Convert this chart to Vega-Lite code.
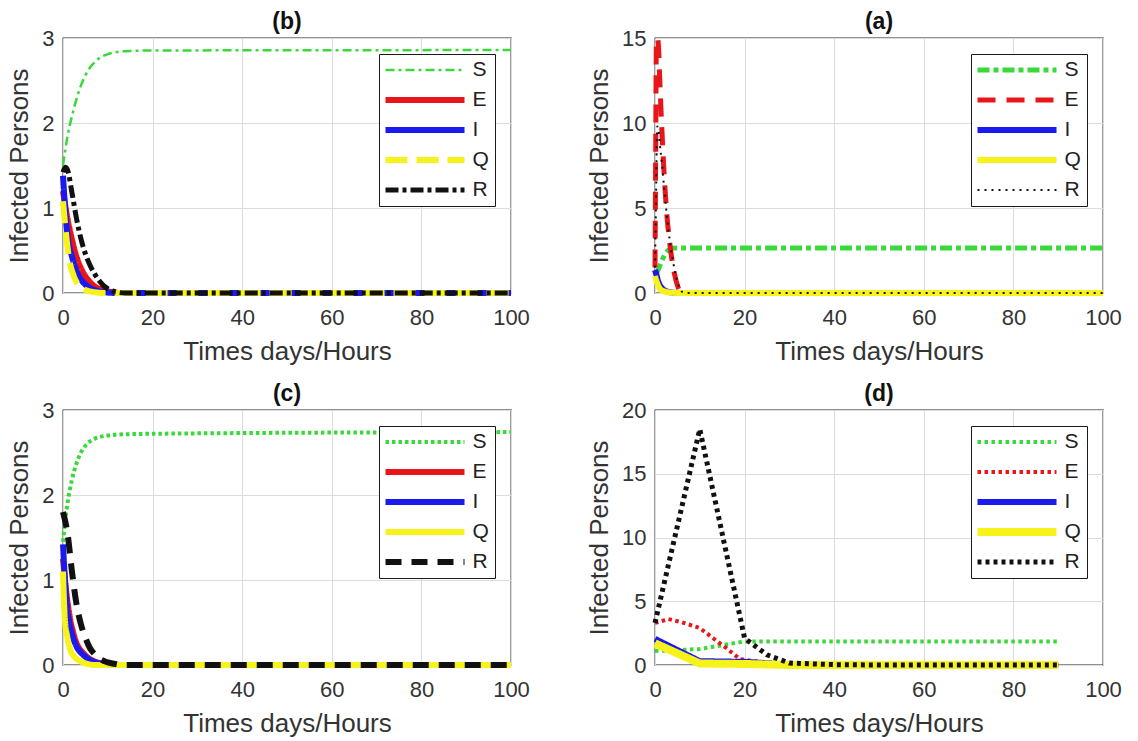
{
  "$schema": "https://vega.github.io/schema/vega-lite/v6.json",
  "padding": {"left": 6, "top": 10, "right": 5, "bottom": 5},
  "background": "white",
  "bounds": "flush",
  "columns": 2,
  "spacing": {"row": 117, "column": 144},
  "datasets": {
    "b": [
      {"s":"S","t":0,"v":1.5},{"s":"S","t":0.5,"v":1.68},{"s":"S","t":1,"v":1.84},{"s":"S","t":1.5,"v":1.97},{"s":"S","t":2,"v":2.08},{"s":"S","t":3,"v":2.28},{"s":"S","t":4,"v":2.44},{"s":"S","t":5,"v":2.56},{"s":"S","t":6,"v":2.65},{"s":"S","t":7,"v":2.71},{"s":"S","t":8,"v":2.76},{"s":"S","t":10,"v":2.81},{"s":"S","t":12,"v":2.835},{"s":"S","t":15,"v":2.848},{"s":"S","t":20,"v":2.853},{"s":"S","t":100,"v":2.858},
      {"s":"E","t":0,"v":1.2},{"s":"E","t":0.75,"v":0.95},{"s":"E","t":2,"v":0.63},{"s":"E","t":3,"v":0.43},{"s":"E","t":4.5,"v":0.24},{"s":"E","t":6,"v":0.13},{"s":"E","t":7,"v":0.08},{"s":"E","t":9,"v":0.035},{"s":"E","t":11,"v":0.01},{"s":"E","t":13,"v":0},{"s":"E","t":100,"v":0},
      {"s":"I","t":0,"v":1.38},{"s":"I","t":0.4,"v":1.05},{"s":"I","t":1,"v":0.68},{"s":"I","t":2,"v":0.43},{"s":"I","t":3,"v":0.26},{"s":"I","t":4,"v":0.16},{"s":"I","t":5,"v":0.1},{"s":"I","t":6,"v":0.06},{"s":"I","t":8,"v":0.02},{"s":"I","t":10,"v":0.005},{"s":"I","t":12,"v":0},{"s":"I","t":100,"v":0},
      {"s":"Q","t":0,"v":1.08},{"s":"Q","t":0.75,"v":0.66},{"s":"Q","t":1.5,"v":0.36},{"s":"Q","t":2,"v":0.26},{"s":"Q","t":3,"v":0.13},{"s":"Q","t":4,"v":0.07},{"s":"Q","t":5,"v":0.035},{"s":"Q","t":7,"v":0.01},{"s":"Q","t":9,"v":0},{"s":"Q","t":100,"v":0},
      {"s":"R","t":0,"v":1.42},{"s":"R","t":0.5,"v":1.48},{"s":"R","t":1,"v":1.45},{"s":"R","t":2,"v":1.18},{"s":"R","t":3,"v":0.88},{"s":"R","t":4,"v":0.64},{"s":"R","t":5,"v":0.46},{"s":"R","t":6,"v":0.33},{"s":"R","t":7,"v":0.23},{"s":"R","t":8,"v":0.15},{"s":"R","t":9,"v":0.09},{"s":"R","t":10,"v":0.05},{"s":"R","t":11,"v":0.025},{"s":"R","t":12,"v":0.01},{"s":"R","t":14,"v":0},{"s":"R","t":100,"v":0}
    ],
    "a": [
      {"s":"S","t":0,"v":1.1},{"s":"S","t":0.5,"v":1.25},{"s":"S","t":1,"v":1.55},{"s":"S","t":1.5,"v":1.88},{"s":"S","t":2,"v":2.15},{"s":"S","t":2.5,"v":2.38},{"s":"S","t":3,"v":2.52},{"s":"S","t":3.5,"v":2.6},{"s":"S","t":4,"v":2.64},{"s":"S","t":5,"v":2.65},{"s":"S","t":100,"v":2.65},
      {"s":"E","t":0,"v":1.5},{"s":"E","t":0.15,"v":8},{"s":"E","t":0.3,"v":14.6},{"s":"E","t":0.55,"v":15},{"s":"E","t":0.8,"v":14.4},{"s":"E","t":1,"v":13},{"s":"E","t":1.5,"v":9.8},{"s":"E","t":2,"v":7.2},{"s":"E","t":2.5,"v":5.1},{"s":"E","t":3,"v":3.6},{"s":"E","t":3.5,"v":2.5},{"s":"E","t":4,"v":1.6},{"s":"E","t":4.5,"v":0.95},{"s":"E","t":5,"v":0.45},{"s":"E","t":5.5,"v":0.12},{"s":"E","t":6,"v":0.02},{"s":"E","t":7,"v":0},{"s":"E","t":100,"v":0},
      {"s":"I","t":0,"v":1.35},{"s":"I","t":0.3,"v":1.1},{"s":"I","t":0.7,"v":0.7},{"s":"I","t":1,"v":0.5},{"s":"I","t":1.5,"v":0.3},{"s":"I","t":2,"v":0.18},{"s":"I","t":3,"v":0.07},{"s":"I","t":4,"v":0.02},{"s":"I","t":5,"v":0},{"s":"I","t":100,"v":0},
      {"s":"Q","t":0,"v":1.0},{"s":"Q","t":0.4,"v":0.65},{"s":"Q","t":0.8,"v":0.38},{"s":"Q","t":1.2,"v":0.22},{"s":"Q","t":2,"v":0.1},{"s":"Q","t":3,"v":0.04},{"s":"Q","t":4,"v":0.01},{"s":"Q","t":5,"v":0},{"s":"Q","t":100,"v":0},
      {"s":"R","t":0,"v":1.5},{"s":"R","t":0.2,"v":5},{"s":"R","t":0.5,"v":9.8},{"s":"R","t":0.8,"v":9.6},{"s":"R","t":1,"v":9.0},{"s":"R","t":1.5,"v":7.7},{"s":"R","t":2,"v":6.3},{"s":"R","t":2.5,"v":4.9},{"s":"R","t":3,"v":3.7},{"s":"R","t":3.5,"v":2.7},{"s":"R","t":4,"v":1.9},{"s":"R","t":4.5,"v":1.2},{"s":"R","t":5,"v":0.65},{"s":"R","t":5.5,"v":0.3},{"s":"R","t":6,"v":0.08},{"s":"R","t":7,"v":0},{"s":"R","t":100,"v":0}
    ],
    "c": [
      {"s":"S","t":0,"v":1.45},{"s":"S","t":0.5,"v":1.7},{"s":"S","t":1,"v":1.9},{"s":"S","t":2,"v":2.18},{"s":"S","t":3,"v":2.37},{"s":"S","t":4,"v":2.5},{"s":"S","t":5,"v":2.58},{"s":"S","t":6,"v":2.63},{"s":"S","t":7,"v":2.66},{"s":"S","t":8,"v":2.68},{"s":"S","t":10,"v":2.7},{"s":"S","t":14,"v":2.715},{"s":"S","t":30,"v":2.725},{"s":"S","t":100,"v":2.74},
      {"s":"E","t":0,"v":1.25},{"s":"E","t":0.75,"v":0.85},{"s":"E","t":1.5,"v":0.57},{"s":"E","t":2.2,"v":0.4},{"s":"E","t":3,"v":0.26},{"s":"E","t":4.5,"v":0.14},{"s":"E","t":6,"v":0.07},{"s":"E","t":8,"v":0.025},{"s":"E","t":10,"v":0.008},{"s":"E","t":12,"v":0},{"s":"E","t":100,"v":0},
      {"s":"I","t":0,"v":1.42},{"s":"I","t":0.3,"v":1.12},{"s":"I","t":0.75,"v":0.75},{"s":"I","t":1.5,"v":0.48},{"s":"I","t":2.2,"v":0.33},{"s":"I","t":3,"v":0.22},{"s":"I","t":4.5,"v":0.12},{"s":"I","t":6,"v":0.06},{"s":"I","t":8,"v":0.02},{"s":"I","t":10,"v":0.005},{"s":"I","t":12,"v":0},{"s":"I","t":100,"v":0},
      {"s":"Q","t":0,"v":1.1},{"s":"Q","t":0.4,"v":0.55},{"s":"Q","t":1,"v":0.32},{"s":"Q","t":1.5,"v":0.2},{"s":"Q","t":2.5,"v":0.1},{"s":"Q","t":3.7,"v":0.05},{"s":"Q","t":5,"v":0.02},{"s":"Q","t":7,"v":0},{"s":"Q","t":100,"v":0},
      {"s":"R","t":0,"v":1.8},{"s":"R","t":1,"v":1.55},{"s":"R","t":2,"v":1.1},{"s":"R","t":3,"v":0.72},{"s":"R","t":4,"v":0.48},{"s":"R","t":5,"v":0.32},{"s":"R","t":6,"v":0.2},{"s":"R","t":7,"v":0.13},{"s":"R","t":8,"v":0.08},{"s":"R","t":10,"v":0.03},{"s":"R","t":12,"v":0.01},{"s":"R","t":13,"v":0},{"s":"R","t":100,"v":0}
    ],
    "d": [
      {"s":"S","t":0,"v":1.1},{"s":"S","t":10,"v":1.25},{"s":"S","t":20,"v":1.85},{"s":"S","t":90,"v":1.85},
      {"s":"E","t":0,"v":3.3},{"s":"E","t":3,"v":3.6},{"s":"E","t":6,"v":3.35},{"s":"E","t":10,"v":2.9},{"s":"E","t":13,"v":2.1},{"s":"E","t":16,"v":1.3},{"s":"E","t":19,"v":0.45},{"s":"E","t":22,"v":0.3},{"s":"E","t":26,"v":0.2},{"s":"E","t":30,"v":0.05},{"s":"E","t":35,"v":0},{"s":"E","t":90,"v":0},
      {"s":"I","t":0,"v":2.05},{"s":"I","t":10,"v":0.3},{"s":"I","t":20,"v":0.25},{"s":"I","t":30,"v":0.02},{"s":"I","t":40,"v":0},{"s":"I","t":90,"v":0},
      {"s":"Q","t":0,"v":1.7},{"s":"Q","t":10,"v":0.12},{"s":"Q","t":20,"v":0.08},{"s":"Q","t":30,"v":0},{"s":"Q","t":90,"v":0},
      {"s":"R","t":0,"v":3.3},{"s":"R","t":10,"v":18.5},{"s":"R","t":20,"v":2.1},{"s":"R","t":25,"v":0.8},{"s":"R","t":30,"v":0.15},{"s":"R","t":40,"v":0.03},{"s":"R","t":50,"v":0},{"s":"R","t":90,"v":0}
    ]
  },
  "concat": [
    {
      "title": "(b)",
      "width": 448, "height": 255,
      "data": {"name": "b"},
      "mark": {"type": "line", "interpolate": "monotone"},
      "encoding": {
        "x": {"field": "t", "type": "quantitative", "scale": {"domain": [0, 100], "nice": false}, "axis": {"values": [0, 20, 40, 60, 80, 100], "title": "Times days/Hours"}},
        "y": {"field": "v", "type": "quantitative", "scale": {"domain": [0, 3], "nice": false}, "axis": {"values": [0, 1, 2, 3], "title": "Infected Persons"}},
        "color": {"field": "s", "type": "nominal", "scale": {"domain": ["S", "E", "I", "Q", "R"], "range": ["#3ad93a", "#e8161b", "#1a1aef", "#f7f21a", "#111111"]}, "legend": {"title": null, "encode": {"symbols": {"update": {"strokeWidth": {"signal": "datum.value === 'S' ? 2.5 : (datum.value === 'R' ? 5 : 6)"}}}}}},
        "strokeDash": {"field": "s", "type": "nominal", "scale": {"domain": ["S", "E", "I", "Q", "R"], "range": [[9, 4, 3, 4], [1, 0], [1, 0], [22, 9], [13, 4, 4, 4]]}, "legend": {"title": null, "encode": {"symbols": {"update": {"strokeWidth": {"signal": "datum.value === 'S' ? 2.5 : (datum.value === 'R' ? 5 : 6)"}}}}}},
        "strokeWidth": {"condition": [{"test": "datum.s === 'S'", "value": 2.5}, {"test": "datum.s === 'R'", "value": 5}], "value": 6}
      }
    },
    {
      "title": "(a)",
      "width": 448, "height": 255,
      "data": {"name": "a"},
      "mark": {"type": "line", "interpolate": "monotone"},
      "encoding": {
        "x": {"field": "t", "type": "quantitative", "scale": {"domain": [0, 100], "nice": false}, "axis": {"values": [0, 20, 40, 60, 80, 100], "title": "Times days/Hours"}},
        "y": {"field": "v", "type": "quantitative", "scale": {"domain": [0, 15], "nice": false}, "axis": {"values": [0, 5, 10, 15], "title": "Infected Persons"}},
        "color": {"field": "s", "type": "nominal", "scale": {"domain": ["S", "E", "I", "Q", "R"], "range": ["#3ad93a", "#e8161b", "#1a1aef", "#f7f21a", "#111111"]}, "legend": {"title": null, "encode": {"symbols": {"update": {"strokeWidth": {"signal": "datum.value === 'R' ? 2 : (datum.value === 'S' || datum.value === 'E' ? 5 : 6)"}}}}}},
        "strokeDash": {"field": "s", "type": "nominal", "scale": {"domain": ["S", "E", "I", "Q", "R"], "range": [[12, 4, 5, 4], [18, 11], [1, 0], [1, 0], [2, 5]]}, "legend": {"title": null, "encode": {"symbols": {"update": {"strokeWidth": {"signal": "datum.value === 'R' ? 2 : (datum.value === 'S' || datum.value === 'E' ? 5 : 6)"}}}}}},
        "strokeWidth": {"condition": [{"test": "datum.s === 'R'", "value": 2}, {"test": "datum.s === 'S' || datum.s === 'E'", "value": 5}], "value": 6}
      }
    },
    {
      "title": "(c)",
      "width": 448, "height": 255,
      "data": {"name": "c"},
      "mark": {"type": "line", "interpolate": "monotone"},
      "encoding": {
        "x": {"field": "t", "type": "quantitative", "scale": {"domain": [0, 100], "nice": false}, "axis": {"values": [0, 20, 40, 60, 80, 100], "title": "Times days/Hours"}},
        "y": {"field": "v", "type": "quantitative", "scale": {"domain": [0, 3], "nice": false}, "axis": {"values": [0, 1, 2, 3], "title": "Infected Persons"}},
        "color": {"field": "s", "type": "nominal", "scale": {"domain": ["S", "E", "I", "Q", "R"], "range": ["#3ad93a", "#e8161b", "#1a1aef", "#f7f21a", "#111111"]}, "legend": {"title": null, "encode": {"symbols": {"update": {"strokeWidth": {"signal": "datum.value === 'S' ? 4 : 6"}}}}}},
        "strokeDash": {"field": "s", "type": "nominal", "scale": {"domain": ["S", "E", "I", "Q", "R"], "range": [[3.5, 3], [1, 0], [1, 0], [1, 0], [16, 10]]}, "legend": {"title": null, "encode": {"symbols": {"update": {"strokeWidth": {"signal": "datum.value === 'S' ? 4 : 6"}}}}}},
        "strokeWidth": {"condition": [{"test": "datum.s === 'S'", "value": 4}], "value": 6}
      }
    },
    {
      "title": "(d)",
      "width": 448, "height": 255,
      "data": {"name": "d"},
      "mark": {"type": "line"},
      "encoding": {
        "x": {"field": "t", "type": "quantitative", "scale": {"domain": [0, 100], "nice": false}, "axis": {"values": [0, 20, 40, 60, 80, 100], "title": "Times days/Hours"}},
        "y": {"field": "v", "type": "quantitative", "scale": {"domain": [0, 20], "nice": false}, "axis": {"values": [0, 5, 10, 15, 20], "title": "Infected Persons"}},
        "color": {"field": "s", "type": "nominal", "scale": {"domain": ["S", "E", "I", "Q", "R"], "range": ["#3ad93a", "#e8161b", "#1a1aef", "#f7f21a", "#111111"]}, "legend": {"title": null, "encode": {"symbols": {"update": {"strokeWidth": {"signal": "datum.value === 'S' || datum.value === 'E' ? 4 : (datum.value === 'R' ? 5 : (datum.value === 'Q' ? 8 : 6))"}}}}}},
        "strokeDash": {"field": "s", "type": "nominal", "scale": {"domain": ["S", "E", "I", "Q", "R"], "range": [[3.5, 3.5], [3.5, 3.5], [1, 0], [1, 0], [4, 4]]}, "legend": {"title": null, "encode": {"symbols": {"update": {"strokeWidth": {"signal": "datum.value === 'S' || datum.value === 'E' ? 4 : (datum.value === 'R' ? 5 : (datum.value === 'Q' ? 8 : 6))"}}}}}},
        "strokeWidth": {"condition": [{"test": "datum.s === 'S' || datum.s === 'E'", "value": 4}, {"test": "datum.s === 'R'", "value": 5}, {"test": "datum.s === 'Q'", "value": 8}], "value": 6}
      }
    }
  ],
  "resolve": {
    "scale": {"color": "independent", "strokeDash": "independent"},
    "legend": {"color": "independent", "strokeDash": "independent"}
  },
  "config": {
    "font": "Liberation Sans",
    "view": {"stroke": "#222222", "strokeWidth": 1.3},
    "axis": {
      "grid": true, "gridColor": "#dcdcdc", "gridWidth": 1,
      "domain": false, "ticks": false,
      "labelFontSize": 22, "labelColor": "#333333", "labelFlush": false,
      "titleFontSize": 26, "titleFontWeight": "normal", "titleColor": "#333333"
    },
    "axisX": {"labelPadding": 14, "titlePadding": 10},
    "axisY": {"labelPadding": 9, "titlePadding": 9},
    "title": {"fontSize": 23, "fontWeight": "bold", "color": "#111111", "offset": -7},
    "legend": {
      "orient": "top-right", "offset": 16,
      "strokeColor": "#1a1a1a", "fillColor": "#ffffff",
      "padding": 6, "symbolType": "stroke", "symbolSize": 6241,
      "symbolOffset": 29.5,
      "clipHeight": 20, "rowPadding": 9,
      "labelFontSize": 21, "labelOffset": 37, "labelColor": "#222222"
    }
  }
}
